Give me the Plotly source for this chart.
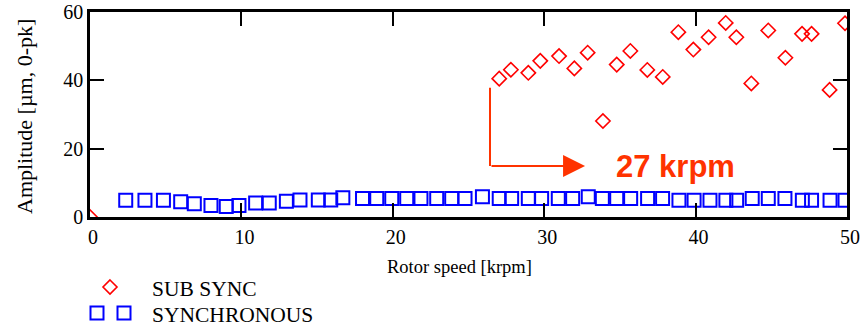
import plotly.graph_objects as go

# Rotor speed [krpm] and amplitude [um, 0-pk]
sub_sync_speed = [0, 27.03, 27.8, 28.95, 29.74, 30.98, 31.99, 32.87, 33.88, 34.79,
                  35.69, 36.81, 37.83, 38.86, 39.85, 40.86, 41.99, 42.69, 43.68,
                  44.8, 45.93, 47.03, 47.66, 48.85, 49.87]
sub_sync_amp = [0, 40.5, 43.1, 42.2, 45.7, 47.1, 43.5, 48.1, 28.1, 44.6,
                48.6, 43.05, 41.0, 54.1, 49.0, 52.6, 56.8, 52.6, 39.1,
                54.6, 46.6, 53.6, 53.6, 37.2, 56.7]

sync_speed = [2.36, 3.63, 4.85, 5.99, 6.89, 7.99, 9.0, 9.84, 10.94, 11.84,
              12.97, 13.87, 15.08, 15.9, 16.7, 18.0, 18.94, 19.93, 20.92, 21.86,
              22.9, 23.89, 24.77, 25.92, 27.03, 27.85, 28.95, 29.83, 30.93, 31.88,
              32.91, 33.84, 34.79, 35.71, 36.83, 37.82, 38.9, 39.9, 40.95, 42.0,
              42.71, 43.74, 44.8, 45.9, 47.05, 47.66, 48.88, 49.87]
sync_amp = [4.9, 4.9, 4.9, 4.5, 3.9, 3.4, 3.05, 3.4, 4.1, 4.1,
            4.6, 5.0, 5.0, 5.0, 5.6, 5.4, 5.4, 5.4, 5.4, 5.4,
            5.4, 5.4, 5.4, 5.9, 5.4, 5.4, 5.4, 5.4, 5.4, 5.4,
            5.9, 5.4, 5.4, 5.4, 5.4, 5.4, 4.9, 4.9, 4.9, 4.9,
            4.9, 5.4, 5.4, 5.4, 4.9, 4.9, 4.9, 4.9]

onset_speed = 27
x_ticks = [0, 10, 20, 30, 40, 50]
y_ticks = [0, 20, 40, 60]

RED = "#ff0000"
BLUE = "#0000ff"
ORANGE = "#ff3300"
SERIF = "Liberation Serif, Times New Roman, serif"
SANS = "Liberation Sans, Arial, sans-serif"

W, H = 863, 330
L, R, T, B = 90, 16, 12, 113
pw, ph = W - L - R, H - T - B


def px(xp):
    return (xp - L) / pw


def py(yp):
    return (H - B - yp) / ph


fig = go.Figure()
fig.add_trace(go.Scatter(
    x=sync_speed, y=sync_amp, mode="markers", name="SYNCHRONOUS",
    marker=dict(symbol="square-open", size=13, color=BLUE, line=dict(width=2, color=BLUE)),
))
fig.add_trace(go.Scatter(
    x=sub_sync_speed, y=sub_sync_amp, mode="markers", name="SUB SYNC",
    marker=dict(symbol="diamond-open", size=11, color=RED, line=dict(width=1.6, color=RED)),
))

axis_common = dict(
    showgrid=False, zeroline=False, showline=True, linecolor="black", linewidth=2.5,
    mirror="ticks", ticks="inside", ticklen=14, tickwidth=2, tickcolor="black",
    tickfont=dict(family=SERIF, size=20, color="black"), automargin=False,
)
fig.update_xaxes(range=[0, 50], tickvals=x_ticks, ticklabelshift=3, **axis_common)
fig.update_yaxes(range=[0, 60], tickvals=y_ticks, **axis_common)

# Onset marker: bent arrow pointing to the label
fig.add_shape(type="line", xref="x", yref="y", x0=26.42, x1=26.42, y0=37.85, y1=14.9,
              line=dict(color=ORANGE, width=2))
fig.add_annotation(x=32.7, y=14.9, ax=26.42, ay=14.9, xref="x", yref="y",
                   axref="x", ayref="y", text="", showarrow=True,
                   arrowhead=2, arrowsize=2.2, arrowwidth=2, arrowcolor=ORANGE)
fig.add_annotation(x=38.7, y=14.9, xref="x", yref="y", text=f"<b>{onset_speed} krpm</b>",
                   showarrow=False, xanchor="center", yanchor="middle",
                   font=dict(family=SANS, size=31, color=ORANGE))

# Axis titles
fig.add_annotation(x=px(459), y=py(267), xref="paper", yref="paper", text="Rotor speed [krpm]",
                   showarrow=False, xanchor="center", yanchor="middle",
                   font=dict(family=SERIF, size=18.5, color="black"))
fig.add_annotation(x=px(24), y=py(117), xref="paper", yref="paper", text="Amplitude [µm, 0-pk]",
                   textangle=-90, showarrow=False, xanchor="center", yanchor="middle",
                   font=dict(family=SERIF, size=22, color="black"))

# Hand-drawn legend below the plot
fig.add_shape(type="path", xref="paper", yref="paper", xsizemode="pixel", ysizemode="pixel",
              xanchor=px(110), yanchor=py(287),
              path="M0,7 L7,0 L0,-7 L-7,0 Z", line=dict(color=RED, width=1.6))
for cx in (97, 124):
    fig.add_shape(type="rect", xref="paper", yref="paper", xsizemode="pixel", ysizemode="pixel",
                  xanchor=px(cx), yanchor=py(313), x0=-6.5, x1=6.5, y0=-6.5, y1=6.5,
                  line=dict(color=BLUE, width=2))
fig.add_annotation(x=px(150), y=py(289), xref="paper", yref="paper", text="SUB SYNC",
                   xanchor="left", yanchor="middle", showarrow=False,
                   font=dict(family=SERIF, size=21.5, color="black"))
fig.add_annotation(x=px(150), y=py(315), xref="paper", yref="paper", text="SYNCHRONOUS",
                   xanchor="left", yanchor="middle", showarrow=False,
                   font=dict(family=SERIF, size=21.5, color="black"))

fig.update_layout(
    width=W, height=H, margin=dict(l=L, r=R, t=T, b=B, pad=0),
    plot_bgcolor="white", paper_bgcolor="white", showlegend=False,
)

fig.write_html("out.html")
